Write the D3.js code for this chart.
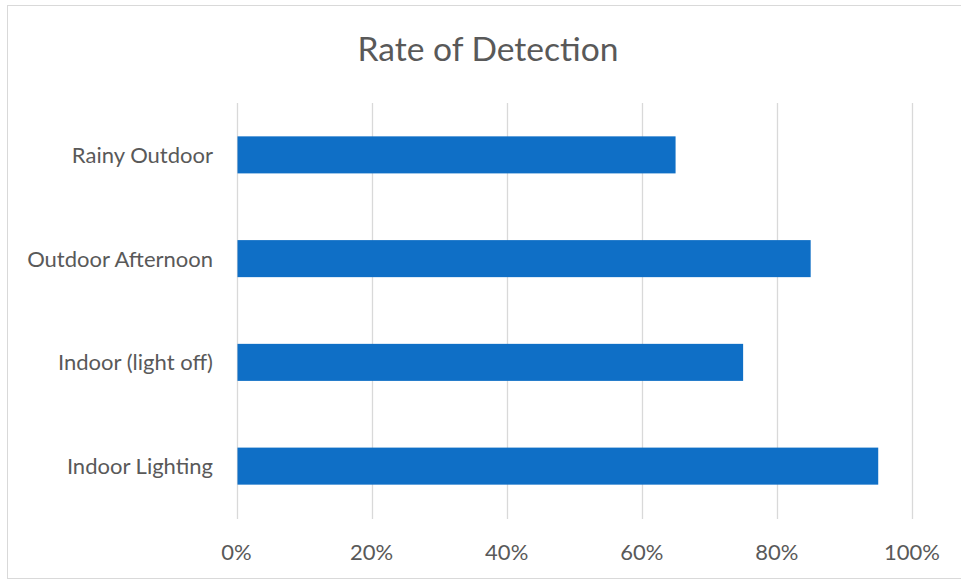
<!DOCTYPE html>
<html>
<head>
<meta charset="utf-8">
<script src="https://cdn.jsdelivr.net/npm/d3@7"></script>
<style>
    body { margin: 0; background: #fff; }
    text { font-family: Lato, "Open Sans", sans-serif; fill: #595959; }
</style>
</head>
<body>
<script>
var categories = ["Rainy Outdoor", "Outdoor Afternoon", "Indoor (light off)", "Indoor Lighting"];
var values = [0.65, 0.85, 0.75, 0.95];
var tickValues = [0, 0.2, 0.4, 0.6, 0.8, 1.0];

var width = 961, height = 581;

var svg = d3.select("body")
    .append("svg")
    .attr("width", width)
    .attr("height", height);

// chart frame
svg.append("rect")
    .attr("x", 7.5).attr("y", 5.5)
    .attr("width", 960).attr("height", 573)
    .attr("fill", "#fff")
    .attr("stroke", "#d9d9d9");

svg.append("text")
    .attr("x", 488).attr("y", 61)
    .attr("text-anchor", "middle")
    .style("font-size", "33px")
    .attr("textLength", 261)
    .attr("lengthAdjust", "spacingAndGlyphs")
    .text("Rate of Detection");

var x = d3.scaleLinear().domain([0, 1]).range([236.5, 912]);
var y = d3.scaleBand().domain(categories).range([103, 518]).paddingInner(0.643).paddingOuter(0.3215);

// gridlines
svg.append("g")
    .selectAll("line")
    .data(tickValues)
    .enter().append("line")
    .attr("x1", function(d) { return Math.round(x(d)) + 0.5; })
    .attr("x2", function(d) { return Math.round(x(d)) + 0.5; })
    .attr("y1", 103)
    .attr("y2", 519)
    .attr("stroke", "#d9d9d9")
    .attr("stroke-width", 1.3);

svg.append("g")
    .selectAll("rect")
    .data(values)
    .enter().append("rect")
    .attr("x", x(0) + 1)
    .attr("y", function(d, i) { return y(categories[i]); })
    .attr("width", function(d) { return x(d) - x(0) - 1; })
    .attr("height", y.bandwidth())
    .attr("fill", "#0f6fc6");

// tick labels
svg.append("g")
    .selectAll("text")
    .data(tickValues)
    .enter().append("text")
    .attr("x", function(d) { return x(d); })
    .attr("y", 560)
    .attr("text-anchor", "middle")
    .style("font-size", "22px")
    .text(function(d) { return d3.format(".0%")(d); });

svg.append("g")
    .selectAll("text")
    .data(categories)
    .enter().append("text")
    .attr("x", 213)
    .attr("y", function(d) { return y(d) + y.bandwidth() / 2 + 8; })
    .attr("text-anchor", "end")
    .style("font-size", "22px")
    .text(function(d) { return d; });
</script>
</body>
</html>
